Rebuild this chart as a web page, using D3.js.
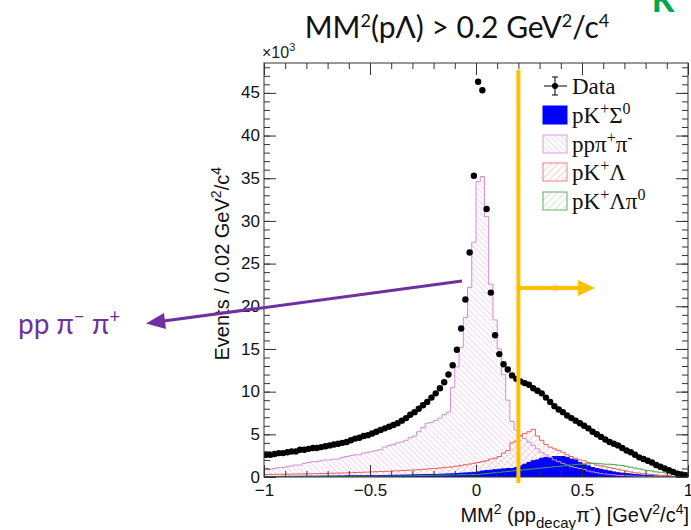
<!DOCTYPE html>
<html><head><meta charset="utf-8">
<script src="https://cdn.jsdelivr.net/npm/d3@7"></script>
<style>body{margin:0;background:#fff} svg{display:block}</style>
</head><body>
<svg id="c" width="691" height="530"></svg>
<script>
// Binning of MM^2(pp_decay pi-): 100 bins of 0.02 GeV^2/c^4 from -1 to 1
const binLow = -1, binWidth = 0.02;

// Counts per bin, in units of 10^3 events
const dataCounts = [
  2.6,2.6,2.7,2.8,2.8,2.9,3.0,3.0,3.2,3.2,
  3.3,3.4,3.4,3.5,3.6,3.7,3.8,3.9,4.0,4.1,
  4.3,4.5,4.6,4.8,4.9,5.1,5.3,5.5,5.7,5.9,
  6.1,6.3,6.6,6.9,7.3,7.6,8.0,8.4,8.8,9.3,
  9.8,10.4,11.1,12.0,13.1,14.9,17.4,20.8,26.3,35.3,
  46.3,45.3,31.4,21.6,16.6,14.4,13.2,12.6,11.9,11.5,
  11.2,11.0,10.8,10.4,10.1,9.8,9.3,8.8,8.3,7.9,
  7.6,7.2,6.9,6.6,6.3,6.0,5.7,5.3,5.0,4.7,
  4.4,4.1,3.9,3.7,3.4,3.1,2.9,2.6,2.3,2.1,
  1.9,1.7,1.4,1.2,1.0,0.8,0.6,0.4,0.3,0.2
];
const ppPiPi = [
  1.0,0.9,1.0,1.1,1.1,1.2,1.3,1.4,1.4,1.6,
  1.7,1.8,1.8,1.9,2.0,2.0,2.1,2.1,2.3,2.4,
  2.5,2.6,2.6,2.8,2.9,3.0,3.1,3.2,3.5,3.7,
  3.8,4.0,4.1,4.3,4.6,4.8,5.3,5.8,6.3,6.4,
  6.6,6.9,7.3,7.6,10.5,12.9,15.2,18.7,22.2,27.5,
  34.6,35.2,30.5,22.6,18.4,15.0,12.0,9.0,6.5,5.5,
  4.9,4.5,4.1,3.7,3.3,2.9,2.6,2.3,2.0,1.8,
  1.6,1.4,1.2,1.1,1.0,0.9,0.7,0.6,0.5,0.4,
  0.35,0.3,0.25,0.2,0.17,0.14,0.12,0.1,0.08,0.06,
  0.05,0.04,0.03,0.03,0.02,0.02,0.01,0.01,0.0,0.0
];
const pKSigma0 = [
  0.05,0.05,0.06,0.06,0.07,0.07,0.08,0.08,0.09,0.09,
  0.10,0.10,0.10,0.11,0.11,0.12,0.12,0.13,0.13,0.14,
  0.14,0.14,0.15,0.15,0.15,0.16,0.16,0.17,0.18,0.19,
  0.20,0.21,0.22,0.23,0.24,0.25,0.26,0.27,0.28,0.29,
  0.30,0.32,0.34,0.36,0.38,0.41,0.45,0.48,0.50,0.55,
  0.60,0.70,0.75,0.80,0.85,0.90,0.95,1.0,1.0,1.1,
  1.3,1.5,1.7,1.9,2.0,2.2,2.3,2.3,2.4,2.4,
  2.4,2.3,2.1,2.0,1.7,1.5,1.3,1.1,1.0,0.9,
  0.8,0.7,0.6,0.5,0.45,0.4,0.35,0.3,0.25,0.2,
  0.18,0.15,0.12,0.1,0.08,0.06,0.05,0.04,0.03,0.02
];
const pKLambda = [
  0.30,0.30,0.31,0.32,0.32,0.33,0.34,0.35,0.36,0.37,
  0.38,0.39,0.40,0.41,0.42,0.44,0.45,0.46,0.47,0.48,
  0.50,0.52,0.54,0.56,0.58,0.60,0.62,0.64,0.66,0.68,
  0.70,0.72,0.75,0.78,0.80,0.82,0.86,0.90,0.94,0.98,
  1.00,1.05,1.10,1.15,1.20,1.28,1.36,1.44,1.52,1.60,
  1.7,1.8,1.9,2.1,2.2,2.4,2.8,3.1,4.0,4.2,
  4.8,5.1,5.3,5.6,4.8,4.3,3.8,3.5,3.3,3.1,
  2.9,2.6,2.4,2.2,2.0,1.9,1.7,1.6,1.4,1.3,
  1.2,1.1,1.0,0.9,0.8,0.7,0.6,0.5,0.45,0.4,
  0.35,0.3,0.25,0.2,0.2,0.15,0.1,0.1,0.05,0.05
];
const pKLambdaPi0 = [
  0.02,0.02,0.02,0.03,0.03,0.03,0.03,0.04,0.04,0.04,
  0.05,0.05,0.05,0.05,0.06,0.06,0.06,0.06,0.07,0.07,
  0.07,0.07,0.08,0.08,0.08,0.08,0.09,0.09,0.09,0.10,
  0.10,0.11,0.12,0.13,0.14,0.15,0.16,0.17,0.18,0.19,
  0.20,0.21,0.22,0.23,0.24,0.25,0.26,0.27,0.28,0.29,
  0.30,0.35,0.40,0.45,0.50,0.55,0.60,0.65,0.70,0.75,
  0.80,0.85,0.90,0.95,1.00,1.05,1.10,1.15,1.20,1.25,
  1.30,1.35,1.40,1.45,1.50,1.50,1.55,1.60,1.60,1.55,
  1.50,1.50,1.45,1.40,1.35,1.25,1.15,1.05,0.95,0.85,
  0.75,0.70,0.60,0.55,0.50,0.40,0.30,0.20,0.10,0.05
];

const xTickValues = [-1, -0.5, 0, 0.5, 1];
const xTickLabels = ["\u22121", "\u22120.5", "0", "0.5", "1"];
const yTickValues = [0, 5, 10, 15, 20, 25, 30, 35, 40, 45];
const yTickLabels = ["0", "5", "10", "15", "20", "25", "30", "35", "40", "45"];
const cutValue = 0.2;

const svg = d3.select("#c");
const x = d3.scaleLinear().domain([-1, 1]).range([264, 688]);
const y = d3.scaleLinear().domain([0, 48.5]).range([477, 63]);

// Hatch patterns
const defs = svg.append("defs");
function hatch(id, color, angle, gap) {
  const p = defs.append("pattern").attr("id", id)
    .attr("patternUnits", "userSpaceOnUse")
    .attr("width", gap).attr("height", gap)
    .attr("patternTransform", `rotate(${angle})`);
  p.append("line").attr("x1", 0).attr("y1", 0).attr("x2", 0).attr("y2", gap)
    .attr("stroke", color).attr("stroke-width", 1);
}
hatch("hPink", "#e2b2e2", -45, 4);
hatch("hRed", "#f2a8a8", 45, 5);
hatch("hGreen", "#a6d6a6", 45, 5);

defs.append("clipPath").attr("id", "plotClip")
  .append("rect").attr("x", 264).attr("y", 63).attr("width", 424).attr("height", 414);

// Step histograms from bin contents
function stepPoints(vals) {
  const pts = vals.map((v, i) => [binLow + i * binWidth, v]);
  pts.push([binLow + vals.length * binWidth, vals[vals.length - 1]]);
  return pts;
}
const area = d3.area().curve(d3.curveStepAfter)
  .x(d => x(d[0])).y0(y(0)).y1(d => y(d[1]));
const line = d3.line().curve(d3.curveStepAfter)
  .x(d => x(d[0])).y(d => y(d[1]));

const plot = svg.append("g").attr("clip-path", "url(#plotClip)");
const series = {
  pipi:   {vals: ppPiPi, fill: "url(#hPink)", stroke: "#d28cd2"},
  lam:    {vals: pKLambda, fill: "url(#hRed)", stroke: "#ee5a5a"},
  lampi0: {vals: pKLambdaPi0, fill: "url(#hGreen)", stroke: "#3fa63f"},
  sigma:  {vals: pKSigma0, fill: "#0000ff", stroke: "#0000ee"}
};
// fills first (hatched below the solid one), then outlines on top
["pipi", "lam", "lampi0", "sigma"].forEach(k => {
  const s = series[k];
  plot.append("path").attr("d", area(stepPoints(s.vals))).attr("fill", s.fill);
});
["sigma", "pipi", "lam", "lampi0"].forEach(k => {
  const s = series[k];
  plot.append("path").attr("d", line(stepPoints(s.vals))).attr("fill", "none")
    .attr("stroke", s.stroke).attr("stroke-width", 1);
});

// Data points with bin-width error bars
const cx = i => x(binLow + (i + 0.5) * binWidth);
plot.selectAll("line.ex").data(dataCounts).join("line")
  .attr("class", "ex")
  .attr("x1", (d, i) => x(binLow + i * binWidth)).attr("x2", (d, i) => x(binLow + (i + 1) * binWidth))
  .attr("y1", d => y(d)).attr("y2", d => y(d))
  .attr("stroke", "#000").attr("stroke-width", 1.5);
plot.selectAll("circle.data").data(dataCounts).join("circle")
  .attr("class", "data")
  .attr("cx", (d, i) => cx(i))
  .attr("cy", d => y(d))
  .attr("r", 3.2).attr("fill", "#000");

// Frame and axes
const axisColor = "#333";
svg.append("rect").attr("x", 264).attr("y", 63).attr("width", 424).attr("height", 414)
  .attr("fill", "none").attr("stroke", axisColor).attr("stroke-width", 1);

const xMinor = d3.range(-1, 1.0001, 0.1).map(v => +v.toFixed(2));
const yMinor = d3.range(0, 48.01, 1);
const sans = "'Liberation Sans', Arial, sans-serif";
const serif = "'Liberation Serif', 'Times New Roman', serif";
const humanist = "Lato, 'Open Sans', sans-serif";

function styleAxis(g) {
  g.select(".domain").remove();
  g.selectAll("line").attr("stroke", axisColor);
  g.selectAll("text").attr("fill", "#111")
    .style("font-family", sans).style("font-size", "17px");
}
// bottom
svg.append("g").attr("transform", `translate(0,477)`)
  .call(d3.axisBottom(x).tickValues(xTickValues).tickSizeInner(-12).tickSizeOuter(0)
    .tickPadding(7).tickFormat((d, i) => xTickLabels[i]))
  .call(styleAxis);
svg.append("g").attr("transform", `translate(0,477)`)
  .call(d3.axisBottom(x).tickValues(xMinor).tickSize(-6).tickFormat(""))
  .call(styleAxis);
// top
svg.append("g").attr("transform", `translate(0,63)`)
  .call(d3.axisTop(x).tickValues(xTickValues).tickSize(-12).tickFormat(""))
  .call(styleAxis);
svg.append("g").attr("transform", `translate(0,63)`)
  .call(d3.axisTop(x).tickValues(xMinor).tickSize(-6).tickFormat(""))
  .call(styleAxis);
// left
svg.append("g").attr("transform", `translate(264,0)`)
  .call(d3.axisLeft(y).tickValues(yTickValues).tickSizeInner(-12).tickSizeOuter(0)
    .tickPadding(4).tickFormat((d, i) => yTickLabels[i]))
  .call(styleAxis)
  .call(g => g.selectAll("text").attr("dy", "0.3em"));
svg.append("g").attr("transform", `translate(264,0)`)
  .call(d3.axisLeft(y).tickValues(yMinor).tickSize(-6).tickFormat(""))
  .call(styleAxis);
// right
svg.append("g").attr("transform", `translate(688,0)`)
  .call(d3.axisRight(y).tickValues(yTickValues).tickSize(-12).tickFormat(""))
  .call(styleAxis);
svg.append("g").attr("transform", `translate(688,0)`)
  .call(d3.axisRight(y).tickValues(yMinor).tickSize(-6).tickFormat(""))
  .call(styleAxis);

// exponent label
const expo = svg.append("text").attr("x", 262).attr("y", 58)
  .style("font-family", sans).style("font-size", "16px").attr("fill", "#222");
expo.append("tspan").text("\u00d710");
expo.append("tspan").attr("dy", -7).style("font-size", "11px").text("3");

// Axis titles
const yt = svg.append("text")
  .attr("transform", "translate(229,167) rotate(-90)")
  .attr("text-anchor", "end")
  .style("font-family", sans).style("font-size", "20px").attr("fill", "#111");
yt.append("tspan").text("Events / 0.02 GeV");
yt.append("tspan").attr("dy", -8).style("font-size", "14px").text("2");
yt.append("tspan").attr("dy", 8).text("/c");
yt.append("tspan").attr("dy", -8).style("font-size", "14px").text("4");

const xt = svg.append("text").attr("x", 689).attr("y", 522).attr("text-anchor", "end")
  .style("font-family", sans).style("font-size", "20px").attr("fill", "#111");
xt.append("tspan").text("MM");
xt.append("tspan").attr("dy", -8).style("font-size", "14px").text("2");
xt.append("tspan").attr("dy", 8).text(" (pp");
xt.append("tspan").attr("dy", 6).style("font-size", "15px").text("decay");
xt.append("tspan").attr("dy", -6).text("\u03c0");
xt.append("tspan").attr("dy", -8).style("font-size", "14px").text("-");
xt.append("tspan").attr("dy", 8).text(") [GeV");
xt.append("tspan").attr("dy", -8).style("font-size", "14px").text("2");
xt.append("tspan").attr("dy", 8).text("/c");
xt.append("tspan").attr("dy", -8).style("font-size", "14px").text("4");
xt.append("tspan").attr("dy", 8).text("]");

// Legend
const legend = svg.append("g");
const rowY = [86, 115, 144, 172, 201];
const lx0 = 543, lx1 = 567, ltx = 572;
legend.append("line").attr("x1", lx0 + 1).attr("x2", lx1).attr("y1", rowY[0]).attr("y2", rowY[0]).attr("stroke", "#000");
legend.append("line").attr("x1", 555).attr("x2", 555).attr("y1", rowY[0] - 9).attr("y2", rowY[0] + 9).attr("stroke", "#000");
legend.append("line").attr("x1", 552).attr("x2", 558).attr("y1", rowY[0] - 9).attr("y2", rowY[0] - 9).attr("stroke", "#000");
legend.append("line").attr("x1", 552).attr("x2", 558).attr("y1", rowY[0] + 9).attr("y2", rowY[0] + 9).attr("stroke", "#000");
legend.append("circle").attr("cx", 555).attr("cy", rowY[0]).attr("r", 3).attr("fill", "#000");

const boxes = [
  {fill: "#0000ff", stroke: "#0000ff"},
  {fill: "url(#hPink)", stroke: "#d9a0d9"},
  {fill: "url(#hRed)", stroke: "#f08080"},
  {fill: "url(#hGreen)", stroke: "#60b060"}
];
boxes.forEach((b, i) => {
  legend.append("rect").attr("x", lx0).attr("y", rowY[i + 1] - 9).attr("width", lx1 - lx0).attr("height", 18)
    .attr("fill", b.fill).attr("stroke", b.stroke).attr("stroke-width", 1);
});
const legendLabels = [
  [["Data", 0]],
  [["pK", 0], ["+", 1], ["\u03a3", 0], ["0", 1]],
  [["pp\u03c0", 0], ["+", 1], ["\u03c0", 0], ["-", 1]],
  [["pK", 0], ["+", 1], ["\u039b", 0]],
  [["pK", 0], ["+", 1], ["\u039b\u03c0", 0], ["0", 1]]
];
legendLabels.forEach((parts, i) => {
  const t = legend.append("text").attr("x", ltx).attr("y", rowY[i] + 8)
    .style("font-family", serif).style("font-size", "23px").attr("fill", "#111");
  let up = false;
  parts.forEach(([s, sup]) => {
    const ts = t.append("tspan").text(s);
    if (sup && !up) { ts.attr("dy", -9).style("font-size", "16px"); up = true; }
    else if (sup && up) { ts.style("font-size", "16px"); }
    else if (!sup && up) { ts.attr("dy", 9); up = false; }
  });
});

// Title
const title = svg.append("text").attr("x", 457).attr("y", 38).attr("text-anchor", "middle")
  .style("font-family", humanist).style("font-size", "30px").attr("fill", "#111");
title.append("tspan").text("MM");
title.append("tspan").attr("dy", -11).style("font-size", "18px").text("2");
title.append("tspan").attr("dy", 11).text("(p\u039b) > 0.2 GeV");
title.append("tspan").attr("dy", -11).style("font-size", "18px").text("2");
title.append("tspan").attr("dy", 11).text("/c");
title.append("tspan").attr("dy", -11).style("font-size", "18px").text("4");

// Corner letter
svg.append("text").attr("x", 652).attr("y", 12)
  .style("font-family", humanist).style("font-weight", "900").style("font-size", "32px")
  .attr("fill", "#00a651").text("K");

// Cut line and selection arrow
const cutX = x(cutValue);
svg.append("line").attr("x1", cutX).attr("x2", cutX).attr("y1", 70).attr("y2", 483)
  .attr("stroke", "#ffc000").attr("stroke-width", 4);
svg.append("path").attr("d", "M553,283 L564,288 L553,293 Z").attr("fill", "#d8e0c0").attr("opacity", 0.7);
svg.append("line").attr("x1", cutX - 2).attr("x2", 582).attr("y1", 288).attr("y2", 288)
  .attr("stroke", "#ffc000").attr("stroke-width", 4);
svg.append("path").attr("d", "M578,280 L595,288 L578,296 Z").attr("fill", "#ffc000");

// Annotation for the pp pi- pi+ component
const purple = "#7030a0";
svg.append("line").attr("x1", 462).attr("y1", 281).attr("x2", 160).attr("y2", 321.5)
  .attr("stroke", purple).attr("stroke-width", 3);
svg.append("path").attr("d", "M146,323.5 L164,313 L166,329 Z").attr("fill", purple);
const ann = svg.append("text").attr("x", 18).attr("y", 334)
  .style("font-family", humanist).style("font-size", "28px").attr("fill", purple);
ann.append("tspan").text("pp \u03c0");
ann.append("tspan").attr("dy", -11).style("font-size", "19px").text("\u2212");
ann.append("tspan").attr("dy", 11).text(" \u03c0");
ann.append("tspan").attr("dy", -11).style("font-size", "19px").text("+");
</script>
</body></html>
